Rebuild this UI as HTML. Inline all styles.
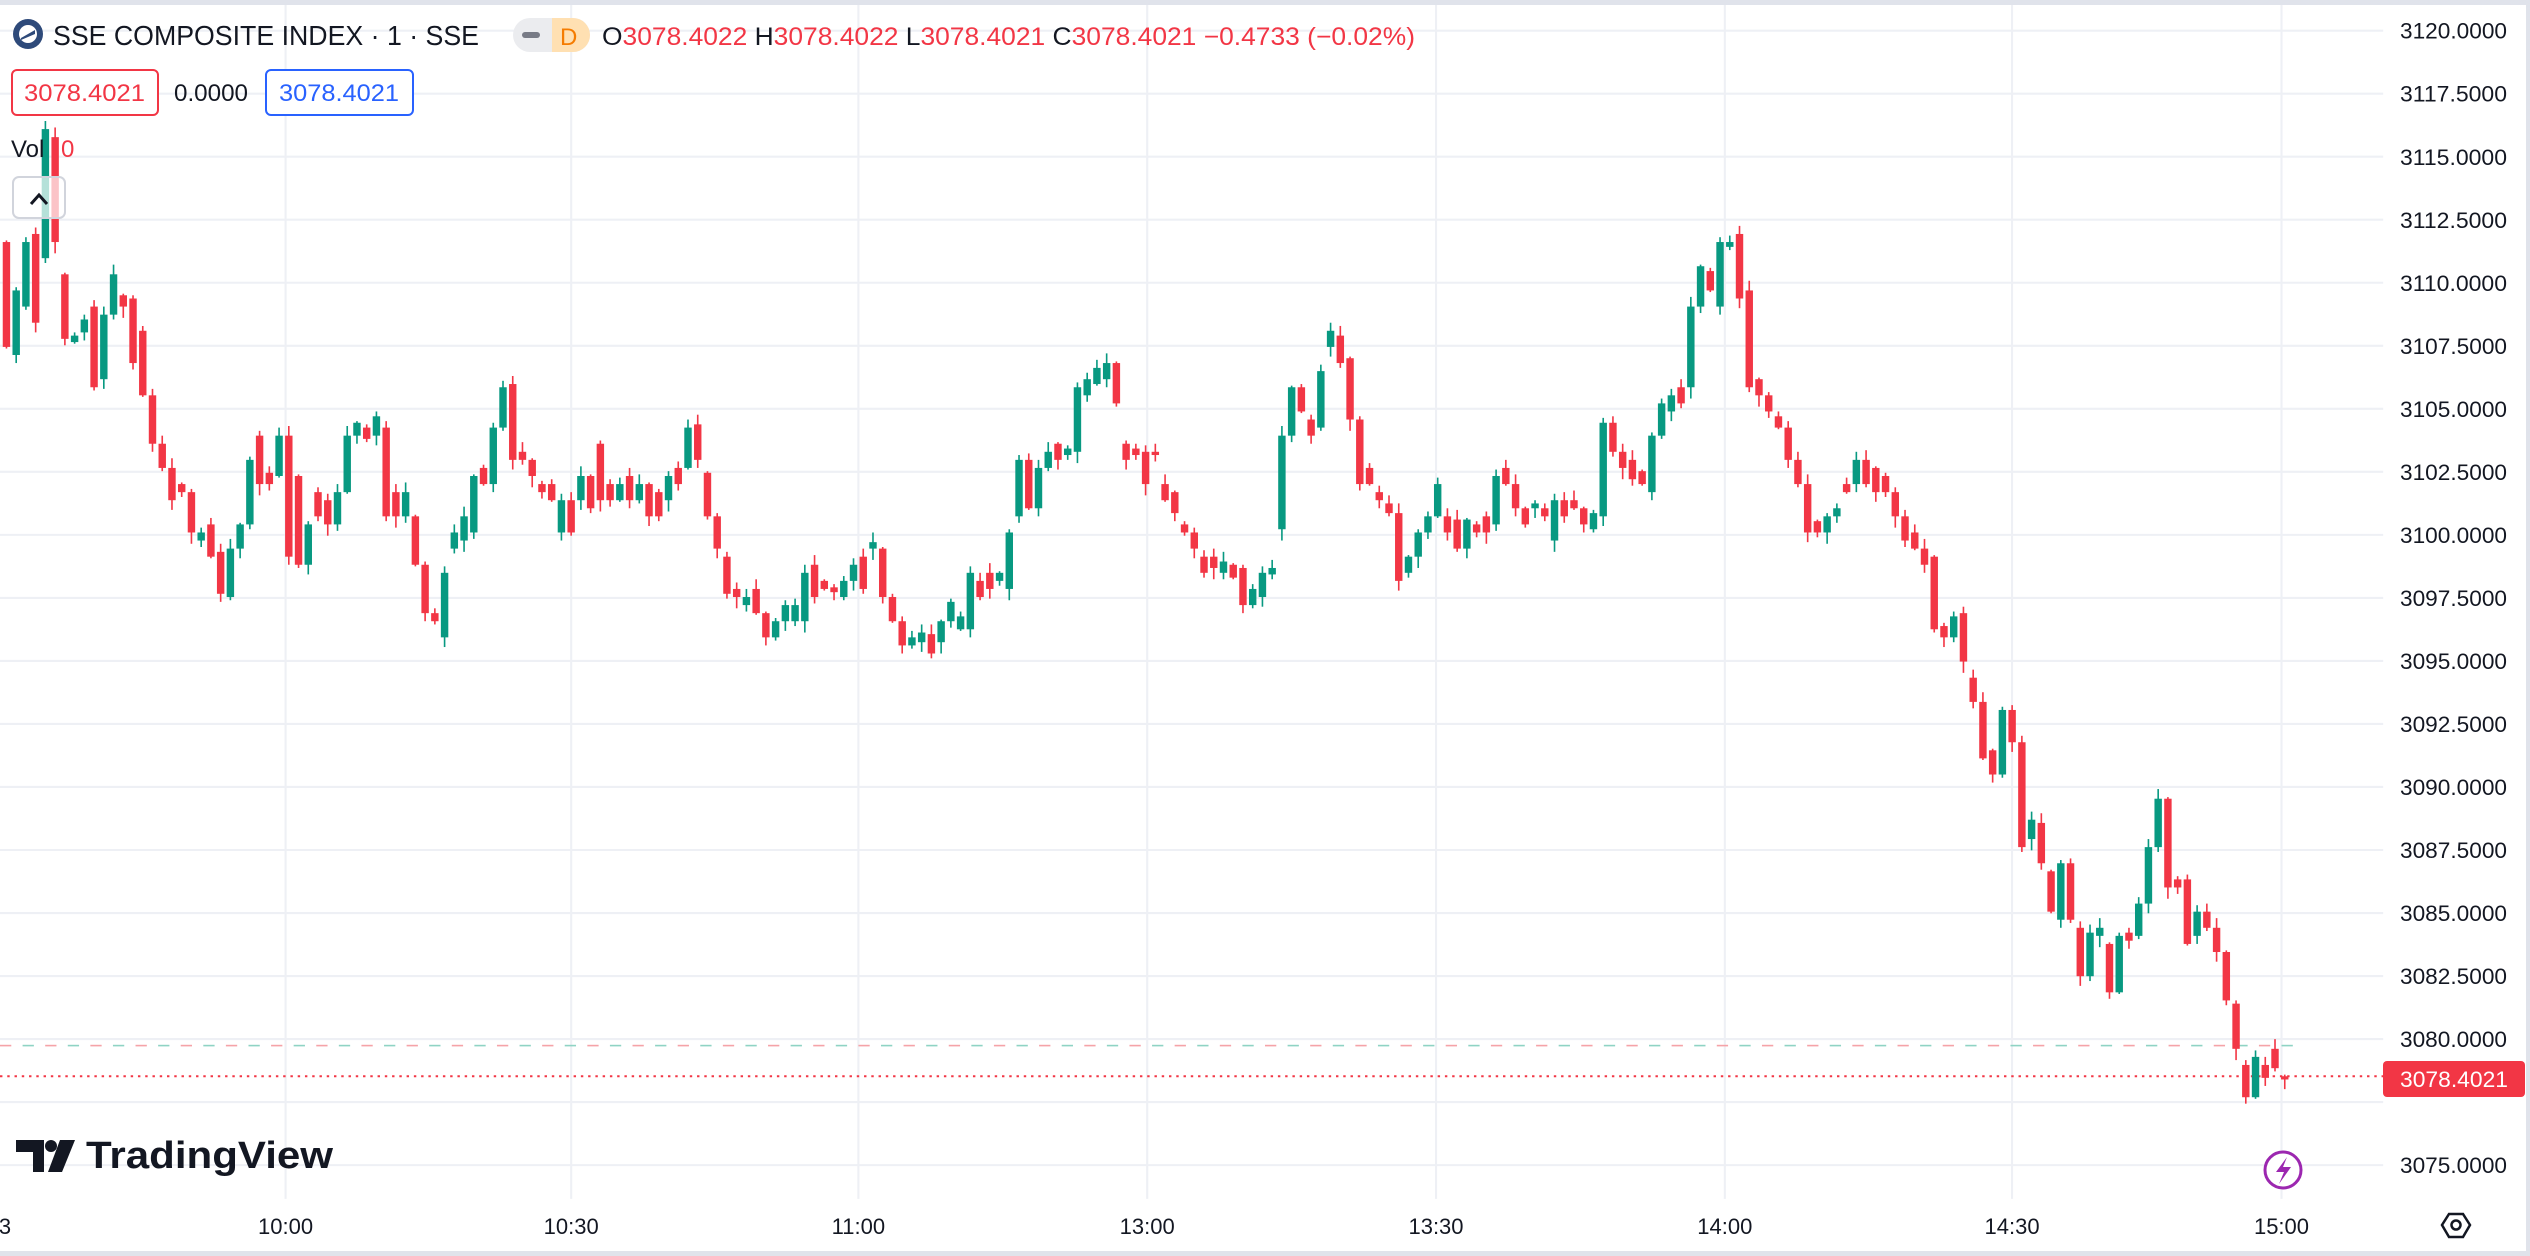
<!DOCTYPE html>
<html><head><meta charset="utf-8">
<style>
html,body{margin:0;padding:0;background:#fff;}
#wrap{position:relative;width:2530px;height:1256px;overflow:hidden;background:#fff;font-family:"Liberation Sans",sans-serif;}
svg{position:absolute;left:0;top:0;}
</style></head>
<body><div id="wrap">
<svg id="plot" width="2530" height="1256" viewBox="0 0 1568 778.4" preserveAspectRatio="none"></svg>
<svg id="ov" width="2530" height="1256" viewBox="0 0 2530 1256" font-family="Liberation Sans, sans-serif">
  <rect x="0" y="0" width="2530" height="5" fill="#e0e3eb"/>
  <rect x="2526" y="0" width="4" height="1256" fill="#e0e3eb"/>
  <rect x="0" y="1251" width="2530" height="5" fill="#e0e3eb"/>
  <circle cx="28" cy="34" r="15" fill="#2e4a7a"/>
  <circle cx="28" cy="34" r="9" fill="#fff"/>
  <path d="M21 38 L35 30 L35 34 L21 40Z" fill="#2e4a7a"/>
  <text x="53" y="45" font-size="28" fill="#131722" textLength="426" lengthAdjust="spacingAndGlyphs">SSE COMPOSITE INDEX · 1 · SSE</text>
  <rect x="513" y="18" width="77" height="34" rx="17" fill="#ebecef"/>
  <path d="M552 18 H573 A17 17 0 0 1 573 52 H552Z" fill="#ffe0b2"/>
  <rect x="522" y="32" width="18" height="6" rx="3" fill="#787b86"/>
  <text x="560" y="45" font-size="24" fill="#f57c00">D</text>
  <text x="602" y="45" font-size="25" fill="#f23645" textLength="813" lengthAdjust="spacingAndGlyphs"><tspan fill="#131722">O</tspan>3078.4022 <tspan fill="#131722">H</tspan>3078.4022 <tspan fill="#131722">L</tspan>3078.4021 <tspan fill="#131722">C</tspan>3078.4021 −0.4733 (−0.02%)</text>
  <rect x="12" y="70" width="146" height="45" rx="5" fill="#fff" stroke="#f23645" stroke-width="2"/>
  <text x="24" y="101" font-size="24" fill="#f23645" textLength="121" lengthAdjust="spacingAndGlyphs">3078.4021</text>
  <text x="174" y="101" font-size="24" fill="#131722" textLength="74" lengthAdjust="spacingAndGlyphs">0.0000</text>
  <rect x="266" y="70" width="147" height="45" rx="5" fill="#fff" stroke="#2962ff" stroke-width="2"/>
  <text x="279" y="101" font-size="24" fill="#2962ff" textLength="120" lengthAdjust="spacingAndGlyphs">3078.4021</text>
  <text x="11" y="157" font-size="24" fill="#131722">Vol</text>
  <text x="61" y="157" font-size="24" fill="#f23645">0</text>
  <rect x="13" y="177" width="52" height="41" rx="6" fill="#fff" fill-opacity="0.7" stroke="#d1d4dc" stroke-width="2"/>
  <path d="M31 204 L39 195 L47 204" fill="none" stroke="#131722" stroke-width="3"/>
  <path d="M16 1140 H44 V1172 H33 V1152 H16Z" fill="#131722"/>
  <circle cx="51" cy="1146" r="6" fill="#131722"/>
  <path d="M60 1140 H75 L62 1172 H48Z" fill="#131722"/>
  <text x="86" y="1168" font-size="38" font-weight="bold" fill="#131722" textLength="247" lengthAdjust="spacingAndGlyphs">TradingView</text>
  <circle cx="2283" cy="1170" r="18" fill="#fff" stroke="#9c27b0" stroke-width="3"/>
  <path d="M2287 1157 L2276 1172 H2284 L2279 1184 L2291 1167 H2283Z" fill="#9c27b0"/>
  <path d="M2449 1214 H2463 L2470 1225 L2463 1237 H2449 L2442 1225Z" fill="none" stroke="#131722" stroke-width="2.5"/>
  <circle cx="2456" cy="1225" r="4.5" fill="none" stroke="#131722" stroke-width="2.5"/>
  <g id="axis" font-size="22" fill="#131722"></g>
  <g id="time" font-size="22" fill="#131722" text-anchor="middle"></g>
  <rect x="2383" y="1061" width="142" height="36" rx="4" fill="#f23645"/>
  <text x="2400" y="1087" font-size="22" fill="#fff" textLength="108" lengthAdjust="spacingAndGlyphs">3078.4021</text>
</svg>
<script>
(function(){
var NS="http://www.w3.org/2000/svg";
function el(p,t,a){var e=document.createElementNS(NS,t);for(var k in a)e.setAttribute(k,a[k]);p.appendChild(e);return e;}
var plot=document.getElementById('plot');
var PX=1477;
for(var i=0;i<=18;i++){var p=3120-i*2.5;var y=19+(3120-p)*15.624;
 el(plot,'line',{x1:0,x2:PX,y1:y,y2:y,stroke:'#eef0f5','stroke-width':1.3});}
var tx=[177,354,532,711,890,1069,1247,1414];
tx.forEach(function(x){el(plot,'line',{x1:x,x2:x,y1:0,y2:743,stroke:'#eef0f5','stroke-width':1.3});});
var d="150,215,r 180,220,g 150,190,g 145,200,r 80,160,g 85,150,r 170,210,r 208,212,g 198,206,g 190,240,r 195,235,g 170,195,g 183,190,r 185,225,r 205,245,r 245,275,r 275,290,r 290,310,r 300,305,r 305,330,r 330,335,g 325,345,r 342,368,r 340,370,g 325,340,g 285,325,g 270,300,r 293,300,r 270,295,g 270,345,r 295,350,r 325,350,g 305,320,r 310,325,r 305,325,g 270,305,g 262,270,g 265,272,r 258,270,g 265,320,r 305,320,r 305,320,g 320,350,r 350,380,r 380,385,r 355,395,g 330,340,g 320,335,g 295,330,g 290,300,r 265,300,g 240,265,g 238,285,r 280,285,r 285,295,r 300,305,r 300,310,r 310,330,g 310,330,r 295,310,g 295,315,r 275,310,r 300,310,r 300,310,g 295,310,r 300,310,g 300,320,r 305,320,r 295,310,g 290,300,r 265,290,g 263,285,r 293,320,r 320,340,r 345,368,r 365,370,r 370,375,g 365,380,r 380,395,r 385,395,g 375,385,g 375,385,g 355,385,g 350,370,r 360,365,r 364,367,r 360,370,g 350,360,g 345,365,r 336,340,g 340,370,r 370,385,r 385,400,r 395,400,g 392,398,g 393,405,r 385,398,g 373,385,g 382,390,g 355,390,g 360,370,r 355,365,r 355,360,g 330,365,g 285,320,g 285,315,r 290,315,g 280,290,g 275,285,r 278,282,g 240,280,g 235,245,g 228,238,g 225,235,g 225,250,r 275,285,r 278,282,r 280,300,r 280,282,r 300,310,r 305,318,r 325,330,r 330,340,r 345,355,r 345,352,r 348,355,g 350,358,r 352,375,r 365,375,g 355,370,g 352,356,g 270,328,g 240,270,g 240,255,r 260,270,r 230,265,g 205,215,g 208,225,r 222,260,r 260,300,r 290,300,r 305,310,r 312,318,r 318,360,r 345,355,g 330,345,g 320,330,g 300,320,g 320,330,r 322,340,r 322,340,g 325,330,r 320,330,r 295,325,g 290,300,r 300,315,r 315,325,r 312,315,g 315,320,r 310,335,g 310,320,r 310,315,r 315,325,r 318,328,g 262,320,g 262,280,r 280,290,r 285,297,r 292,300,r 270,305,g 250,270,g 245,255,g 240,250,r 190,240,g 165,190,g 168,180,r 150,190,g 150,153,g 145,185,r 180,240,r 235,245,r 245,255,r 258,265,r 265,285,r 285,300,r 300,330,r 323,330,r 320,330,g 315,320,g 300,305,r 285,300,g 285,300,r 290,305,r 295,305,r 305,320,r 320,335,r 330,340,r 340,350,r 345,390,r 388,395,r 382,395,g 380,410,r 420,435,r 435,470,r 465,480,r 440,480,g 440,460,r 460,525,r 508,520,g 510,535,r 540,565,r 535,570,g 535,570,r 575,605,r 578,605,g 575,580,g 585,615,r 580,615,g 578,583,r 560,580,g 525,560,g 495,525,g 495,550,r 545,550,r 545,585,r 565,580,g 565,575,r 575,590,r 590,620,r 622,650,r 660,680,r 655,680,g 660,668,r 650,662,r 667,669,r".split(' ');
var n=d.length, step=(1416-4)/(n-1);
for(var x=0;x<1416;x+=14){el(plot,'line',{x1:x,x2:x+7,y1:648,y2:648,stroke:((x/14)%2?'#8fd3c4':'#f5a3a8'),'stroke-width':1});}
el(plot,'line',{x1:0,x2:PX,y1:667,y2:667,stroke:'#f23645','stroke-width':1.2,'stroke-dasharray':'1.5 3'});
for(var i=0;i<n;i++){
 var q=d[i].split(','),t=+q[0],b=+q[1],c=q[2]=='g'?'#089981':'#f23645';
 var x=4+i*step;
 var up=1+((i*7)%6), dn=1+((i*11)%7);
 el(plot,'line',{x1:x,x2:x,y1:t-up,y2:b+dn,stroke:c,'stroke-width':1});
 var h=Math.max(b-t,1.2);
 el(plot,'rect',{x:x-2.3,y:t,width:4.6,height:h,fill:c});
}
var ax=document.getElementById('axis');
for(var i=0;i<=18;i++){var p=3120-i*2.5;var y=30.7+i*63.03;
 if(p==3077.5)continue;
 var e=el(ax,'text',{x:2400,y:y+8,textLength:107,lengthAdjust:'spacingAndGlyphs'});e.textContent=p.toFixed(4);}
var tm=document.getElementById('time');
var lab=['10:00','10:30','11:00','13:00','13:30','14:00','14:30','15:00'];
tx.forEach(function(x,k){var e=el(tm,'text',{x:x*1.6135,y:1234});e.textContent=lab[k];});
var e=el(tm,'text',{x:5,y:1234});e.textContent='3';
})();
</script>
</div></body></html>
